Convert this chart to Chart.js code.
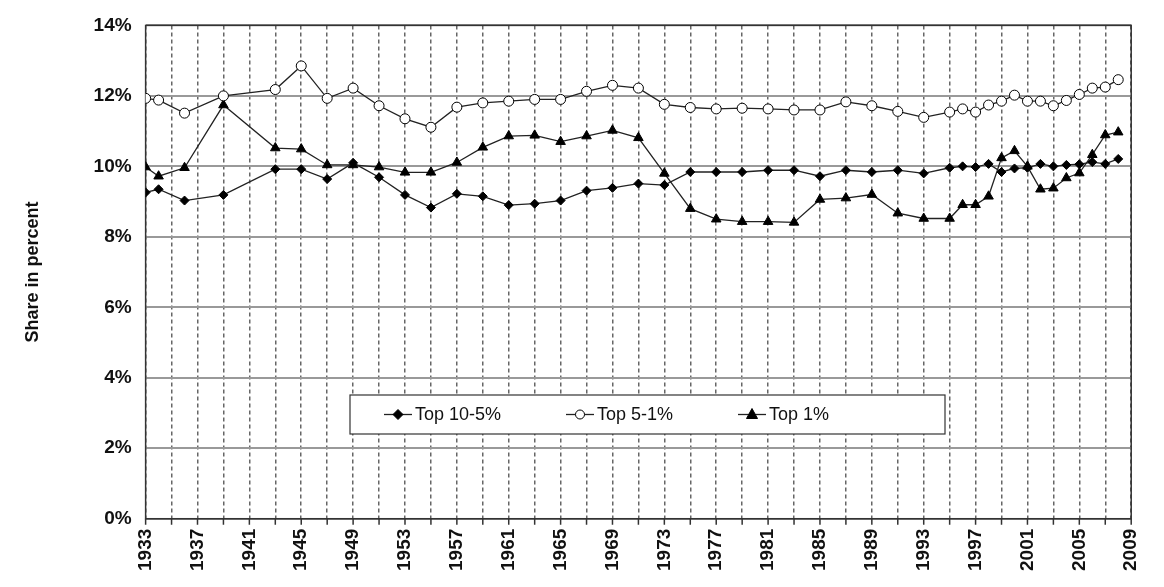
<!DOCTYPE html>
<html><head><meta charset="utf-8">
<script src="https://cdn.jsdelivr.net/npm/chart.js@4"></script>
<style>html,body{margin:0;padding:0;background:#fff}#w{width:1164px;height:587px}</style>
</head><body><div id="w"><canvas id="c"></canvas></div>
<script>
const years=[1933,1934,1936,1939,1943,1945,1947,1949,1951,1953,1955,1957,1959,1961,1963,1965,1967,1969,1971,1973,1975,1977,1979,1981,1983,1985,1987,1989,1991,1993,1995,1996,1997,1998,1999,2000,2001,2002,2003,2004,2005,2006,2007,2008];
const top10_5=[9.26,9.35,9.03,9.19,9.92,9.92,9.64,10.1,9.69,9.19,8.83,9.22,9.15,8.9,8.94,9.03,9.31,9.39,9.51,9.47,9.84,9.84,9.84,9.89,9.89,9.72,9.89,9.84,9.89,9.8,9.96,10.0,9.98,10.07,9.84,9.94,9.96,10.07,10.0,10.04,10.06,10.12,10.07,10.21];
const top5_1=[11.93,11.88,11.51,12.0,12.18,12.85,11.93,12.22,11.72,11.35,11.11,11.68,11.8,11.85,11.9,11.9,12.13,12.3,12.22,11.76,11.67,11.63,11.65,11.63,11.6,11.6,11.83,11.72,11.56,11.39,11.54,11.63,11.54,11.74,11.85,12.02,11.85,11.85,11.72,11.87,12.04,12.22,12.25,12.46];
const top1=[9.98,9.72,9.96,11.74,10.52,10.49,10.04,10.04,9.98,9.83,9.83,10.11,10.54,10.86,10.88,10.7,10.86,11.02,10.81,9.8,8.8,8.5,8.43,8.43,8.41,9.06,9.1,9.2,8.67,8.52,8.52,8.91,8.91,9.15,10.24,10.44,10.0,9.35,9.38,9.67,9.81,10.33,10.89,10.97];
const yTicks=[0,2,4,6,8,10,12,14];
const names=['Top 10-5%','Top 5-1%','Top 1%'];
const pts=a=>a.map((v,i)=>({x:years[i],y:v}));
const base={borderColor:'#222',borderWidth:1.3,pointBorderColor:'#000',pointBorderWidth:1,tension:0};
const ds=[
 Object.assign({label:names[0],data:pts(top10_5),pointStyle:'rectRot',pointRadius:4.5,pointBackgroundColor:'#000'},base),
 Object.assign({label:names[1],data:pts(top5_1),pointStyle:'circle',pointRadius:5,pointBackgroundColor:'#fff'},base),
 Object.assign({label:names[2],data:pts(top1),pointStyle:'triangle',pointRadius:5.5,pointBackgroundColor:'#000'},base)
];
const frame={id:'fr',beforeDatasetsDraw(ch){const a=ch.chartArea,c=ch.ctx;c.save();c.strokeStyle='#333';c.lineWidth=1.5;
 c.strokeRect(a.left,a.top,a.right-a.left,a.bottom-a.top);
 const s=ch.scales.x;c.beginPath();for(let v=1933;v<=2009;v+=2){const px=s.getPixelForValue(v);c.moveTo(px,a.bottom);c.lineTo(px,a.bottom+6);}c.stroke();c.restore();}};
const legendPlugin={id:'lg',afterDraw(ch){
 const c=ch.ctx,x0=350,y0=395,w=595,h=39;
 c.save();c.fillStyle='#fff';c.strokeStyle='#333';c.lineWidth=1.2;
 c.fillRect(x0,y0,w,h);c.strokeRect(x0,y0,w,h);
 const xs=[398,580,752];
 c.font='18px Liberation Sans, Arial';c.textBaseline='middle';
 ds.forEach((d,i)=>{const cx=xs[i],cy=y0+h/2;
  c.strokeStyle='#222';c.lineWidth=1.3;c.beginPath();c.moveTo(cx-14,cy);c.lineTo(cx+14,cy);c.stroke();
  c.fillStyle=d.pointBackgroundColor;c.strokeStyle='#000';c.lineWidth=1;
  c.beginPath();
  if(i===0){c.moveTo(cx,cy-5);c.lineTo(cx+5,cy);c.lineTo(cx,cy+5);c.lineTo(cx-5,cy);c.closePath();}
  else if(i===1){c.arc(cx,cy,4.5,0,Math.PI*2);}
  else{c.moveTo(cx,cy-6);c.lineTo(cx+5.5,cy+4);c.lineTo(cx-5.5,cy+4);c.closePath();}
  c.fill();c.stroke();
  c.fillStyle='#111';c.fillText(d.label,cx+17,cy+1);
 });
 c.restore();}};
new Chart(document.getElementById('c'),{type:'line',data:{datasets:ds},plugins:[frame,legendPlugin],
options:{responsive:true,maintainAspectRatio:false,animation:false,
 layout:{padding:{left:18,right:-6,top:6,bottom:6}},
 plugins:{legend:{display:false},tooltip:{enabled:false}},
 scales:{
  x:{type:'linear',min:1933,max:2009,
   afterBuildTicks(a){a.ticks=[];for(let v=1933;v<=2009;v+=2)a.ticks.push({value:v});},
   ticks:{autoSkip:false,maxRotation:90,minRotation:90,padding:10,color:'#111',font:{family:'Liberation Sans, Arial',size:19,weight:'bold'},
    callback:v=>((v-1933)%4===0?String(v):'')},
   grid:{color:'#666',lineWidth:1.5,drawTicks:false},border:{display:false,dash:[4,3]},
  },
  y:{min:0,max:14,
   afterBuildTicks(a){a.ticks=yTicks.map(v=>({value:v}));},
   ticks:{color:'#111',padding:14,font:{family:'Liberation Sans, Arial',size:19,weight:'bold'},callback:v=>v+'%'},
   grid:{color:'#999',lineWidth:2,drawTicks:false},border:{display:false},
   title:{display:true,text:'Share in percent',color:'#111',padding:{bottom:36},font:{family:'Liberation Sans, Arial',size:18,weight:'bold'}}
  }
 }
},
});
</script></body></html>
